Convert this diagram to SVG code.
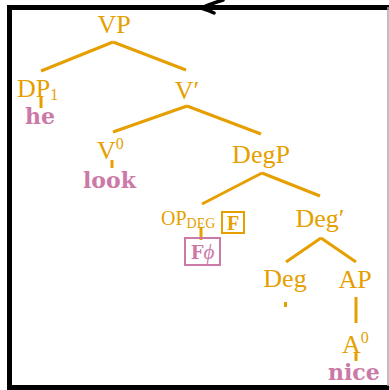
<svg xmlns="http://www.w3.org/2000/svg" width="389" height="390" viewBox="0 0 389 390">
<style>
.o{fill:#E69F00;font-family:"Liberation Serif",serif}
.p{fill:#CC79A7;font-family:"DejaVu Serif",serif;font-weight:bold}
.l{stroke:#E69F00;stroke-width:3;fill:none}
</style>
<rect width="389" height="390" fill="#fff"/>
<g id="frame">
<line x1="9.5" y1="5" x2="9.5" y2="390" stroke="#000" stroke-width="5"/>
<line x1="7" y1="7.5" x2="389" y2="7.5" stroke="#000" stroke-width="5"/>
<line x1="7" y1="387.5" x2="389" y2="387.5" stroke="#000" stroke-width="5"/>
<line x1="388" y1="7" x2="388" y2="386" stroke="#aaa" stroke-width="1.5"/>
<path d="M223,0 Q210,4 201,8 Q208,10 214,13" fill="none" stroke="#000" stroke-width="3.5" stroke-linecap="round" stroke-linejoin="round"/>
</g>
<g id="connectors">
<line class="l" x1="113" y1="42" x2="41" y2="71"/>
<line class="l" x1="113" y1="42" x2="186" y2="70"/>
<line class="l" x1="41" y1="97" x2="41" y2="108"/>
<line class="l" x1="187" y1="106" x2="113" y2="132"/>
<line class="l" x1="187" y1="106" x2="261" y2="134"/>
<line class="l" x1="112" y1="160" x2="112" y2="168"/>
<line class="l" x1="262" y1="173" x2="202" y2="204"/>
<line class="l" x1="262" y1="173" x2="320" y2="196"/>
<line class="l" x1="201" y1="227" x2="201" y2="240"/>
<line class="l" x1="321" y1="238" x2="286" y2="262"/>
<line class="l" x1="321" y1="238" x2="356" y2="262"/>
<line class="l" x1="285.5" y1="302" x2="285.5" y2="307"/>
<line class="l" x1="356" y1="297" x2="356" y2="323"/>
<line class="l" x1="356" y1="352" x2="356" y2="361"/>
</g>
<g id="VP"><text class="o" x="114" y="33" font-size="26" text-anchor="middle">VP</text></g>
<g id="DP1"><text class="o" x="17" y="97" font-size="26">DP<tspan font-size="16" dy="3">1</tspan></text></g>
<g id="he"><text class="p" x="25" y="124" font-size="22">he</text></g>
<g id="Vbar"><text class="o" x="187" y="99" font-size="26" text-anchor="middle">V′</text></g>
<g id="V0"><text class="o" x="97" y="159" font-size="26">V<tspan font-size="16" dy="-10">0</tspan></text></g>
<g id="look"><text class="p" x="83" y="188" font-size="22">look</text></g>
<g id="DegP"><text class="o" x="261" y="163" font-size="26" text-anchor="middle">DegP</text></g>
<g id="OPDEG"><text class="o" x="161" y="225" font-size="20">OP<tspan font-size="14" dy="3">DEG</tspan></text>
<rect x="222" y="212" width="22" height="21" fill="none" stroke="#E69F00" stroke-width="2"/>
<text class="o" x="233" y="230" font-size="20" font-weight="bold" text-anchor="middle">F</text></g>
<g id="Fphi"><rect x="185" y="238" width="35" height="27" fill="none" stroke="#CC79A7" stroke-width="2"/>
<text class="p" x="202.5" y="259" font-size="18" text-anchor="middle">F<tspan font-weight="normal" font-style="italic" font-family="Liberation Serif, serif" font-size="21">ϕ</tspan></text></g>
<g id="Degbar"><text class="o" x="320" y="227" font-size="26" text-anchor="middle">Deg′</text></g>
<g id="Deg"><text class="o" x="285" y="287" font-size="26" text-anchor="middle">Deg</text></g>
<g id="AP"><text class="o" x="355" y="288" font-size="26" text-anchor="middle">AP</text></g>
<g id="A0"><text class="o" x="342" y="353" font-size="26">A<tspan font-size="16" dy="-10">0</tspan></text></g>
<g id="nice"><text class="p" x="328" y="380" font-size="22">nice</text></g>
</svg>
